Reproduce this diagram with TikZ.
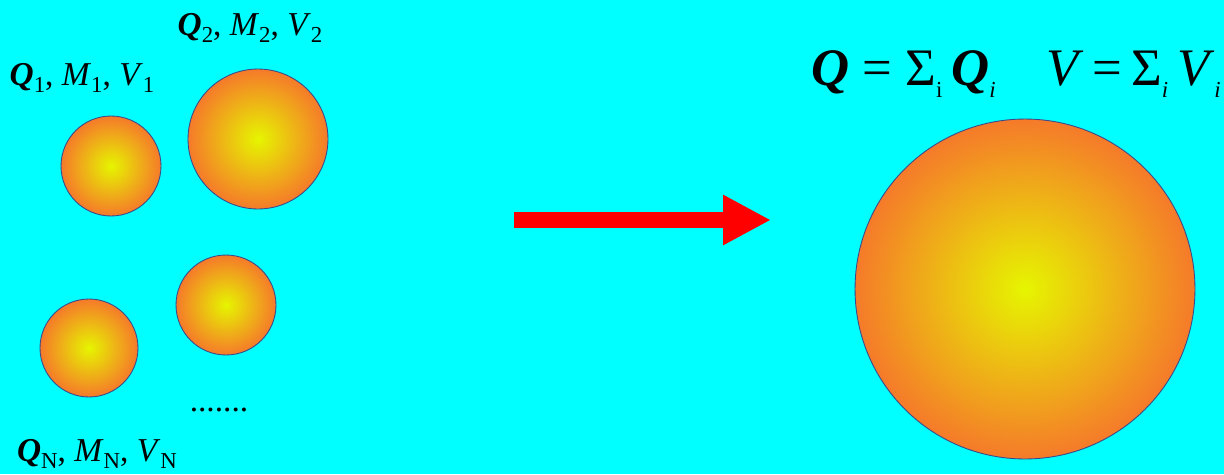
\documentclass[tikz,border=0pt]{standalone}
\usepackage{fontspec}
\setmainfont{Liberation Serif}
\usepackage{xcolor}
\usepackage{tikz}
\usetikzlibrary{arrows.meta,positioning}
\definecolor{sky}{HTML}{00FFFF}
\definecolor{core}{HTML}{E6F500}
\definecolor{rim}{HTML}{F57A2A}
\definecolor{edge}{HTML}{3A4A8A}
\definecolor{flow}{HTML}{FF0000}
\newcommand{\Qb}{\textbf{\textit{Q}}}
\newcommand{\lowsub}[1]{\raisebox{-0.5ex}{\fontsize{13}{13}\selectfont #1}}
\tikzset{
  drop/.style={circle, draw=edge, line width=0.5pt, inner sep=0pt,
               inner color=core, outer color=rim},
  lab/.style={font=\fontsize{19}{19}\selectfont, inner sep=0pt, anchor=base},
  sumlab/.style={font=\fontsize{30}{30}\selectfont, inner sep=0pt, anchor=base},
  merge/.style={draw=flow, line width=0.32cm, -{Triangle[length=0.96cm, width=0.94cm]}},
}
\begin{document}
\begin{tikzpicture}[x=0.02cm, y=-0.02cm]
  \fill[sky] (0,0) rectangle (1224,474);
  \useasboundingbox (0,0) rectangle (1224,474);
  % small drops
  \node[drop, minimum size=2.0cm] (d1) at (111,166) {};
  \node[drop, minimum size=2.8cm] (d2) at (258,139) {};
  \node[drop, minimum size=2.0cm] (d3) at (226,305) {};
  \node[drop, minimum size=1.96cm] (dn) at (89,348) {};
  % merged drop
  \node[drop, minimum size=6.8cm] (big) at (1025,289) {};
  % labels
  \node[lab] (l1) at (82,85) {\Qb\lowsub{1}, \textit{M}\lowsub{1}, \textit{V}\lowsub{1}};
  \node[lab] (l2) at (250,35) {\Qb\lowsub{2}, \textit{M}\lowsub{2}, \textit{V}\lowsub{2}};
  \node[lab] (ln) at (97,461) {\Qb\lowsub{N}, \textit{M}\lowsub{N}, \textit{V}\lowsub{N}};
  \node[lab] (dots) at (219,411) {.......};
  \node[sumlab, anchor=base west] (sq) at (811,85) {\Qb{} = Σ\lowsub{i}\,\Qb\lowsub{\textit{i}}};
  \node[sumlab, anchor=base east] (sv) at (1221,85) {\textit{V}\,=\,Σ\lowsub{\textit{i}}\,\textit{V}\lowsub{\textit{i}}};
  % arrow
  \coordinate (from) at (514,220);
  \coordinate (to) at (771,220);
  \draw[merge] (from) -- (to);
\end{tikzpicture}
\end{document}
